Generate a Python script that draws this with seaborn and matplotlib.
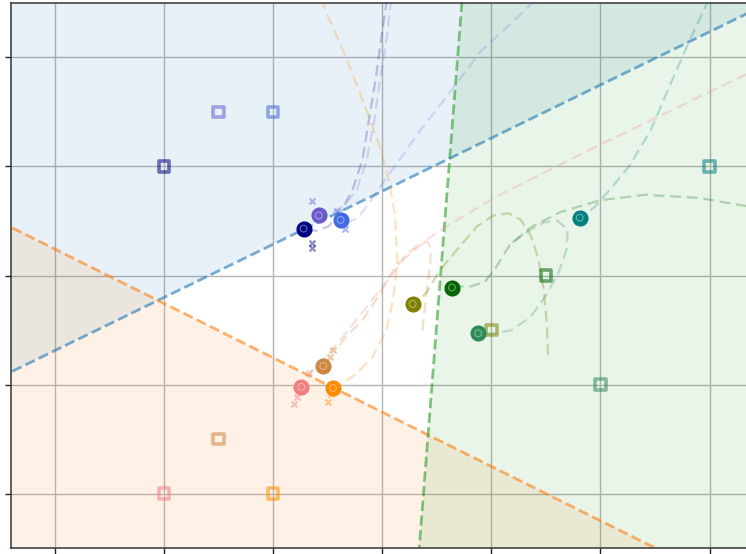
import numpy as np
import pandas as pd
import matplotlib
matplotlib.use("Agg")
import matplotlib.pyplot as plt
import seaborn as sns

# ---- agents: current position and goal ----
agent_colors = ["navy", "slateblue", "royalblue", "lightcoral", "peru",
                "darkorange", "olive", "darkgreen", "seagreen", "teal"]
agent_x = [-0.72, -0.58, -0.38, -0.74, -0.54, -0.45, 0.28, 0.64, 0.88, 1.81]
agent_y = [0.43, 0.55, 0.51, -1.02, -0.83, -1.03, -0.26, -0.11, -0.53, 0.53]
goal_x = [-2.0, -1.5, -1.0, -2.0, -1.5, -1.0, 1.0, 1.5, 2.0, 3.0]
goal_y = [1.0, 1.5, 1.5, -2.0, -1.5, -2.0, -0.5, 0.0, -1.0, 1.0]

# ---- recent samples around the agents ----
sample_colors = ["slateblue", "navy", "navy", "royalblue", "royalblue",
                 "lightcoral", "lightcoral", "lightcoral",
                 "darkorange", "darkorange", "peru", "peru"]
sample_x = [-0.64, -0.64, -0.64, -0.34, -0.41,
            -0.81, -0.78, -0.67, -0.50, -0.47, -0.45, -0.48]
sample_y = [0.68, 0.30, 0.25, 0.43, 0.59,
            -1.18, -1.11, -0.89, -1.16, -1.09, -0.68, -0.75]

# ---- travelled paths ----
trail_navy_x = [0.05, 0.04, -0.01, -0.06, -0.12, -0.18, -0.27, -0.38, -0.49, -0.60, -0.70]
trail_navy_y = [2.60, 2.50, 2.16, 1.79, 1.43, 1.06, 0.79, 0.58, 0.45, 0.41, 0.42]

trail_slateblue_x = [0.09, 0.08, 0.04, -0.02, -0.07, -0.14, -0.23, -0.34, -0.45, -0.55]
trail_slateblue_y = [2.60, 2.50, 2.16, 1.79, 1.43, 1.06, 0.79, 0.65, 0.58, 0.56]

trail_royalblue_x = [1.40, 1.17, 0.90, 0.72, 0.53, 0.35, 0.18, 0.03, -0.13, -0.22, -0.31]
trail_royalblue_y = [2.52, 2.30, 2.05, 1.81, 1.56, 1.33, 1.09, 0.88, 0.65, 0.53, 0.49]

trail_lightcoral_x = [3.50, 3.33, 2.91, 2.46, 2.00, 1.54, 1.08, 0.72, 0.44, 0.21, 0.03,
                      -0.16, -0.34, -0.52, -0.66]
trail_lightcoral_y = [1.91, 1.84, 1.64, 1.42, 1.20, 0.97, 0.74, 0.53, 0.35, 0.16, -0.07,
                      -0.31, -0.54, -0.75, -0.89]

trail_peru_x = [0.37, 0.40, 0.44, 0.45, 0.41, 0.33, 0.21, 0.09, -0.04, -0.18, -0.34, -0.42]
trail_peru_y = [-0.50, -0.22, 0.10, 0.25, 0.31, 0.28, 0.18, 0.03, -0.20, -0.41, -0.57, -0.68]

trail_darkorange_x = [-0.57, -0.55, -0.34, -0.16, -0.01, 0.07, 0.12, 0.14, 0.10, 0.04,
                      -0.09, -0.25, -0.38]
trail_darkorange_y = [2.60, 2.50, 2.02, 1.56, 1.15, 0.83, 0.54, 0.14, -0.22, -0.50,
                      -0.75, -0.91, -1.00]

trail_olive_x = [1.52, 1.51, 1.48, 1.43, 1.36, 1.27, 1.16, 1.02, 0.87, 0.69, 0.53, 0.41, 0.33]
trail_olive_y = [-0.73, -0.45, -0.13, 0.16, 0.37, 0.51, 0.57, 0.55, 0.45, 0.24, 0.05, -0.15, -0.24]

trail_darkgreen_x = [3.50, 3.37, 2.91, 2.41, 2.00, 1.63, 1.36, 1.17, 1.04, 0.94, 0.81, 0.69]
trail_darkgreen_y = [0.61, 0.63, 0.71, 0.74, 0.69, 0.58, 0.44, 0.28, 0.07, -0.06, -0.10, -0.10]

trail_seagreen_x = [1.19, 1.33, 1.49, 1.61, 1.70, 1.69, 1.61, 1.49, 1.36, 1.19, 1.04, 0.94]
trail_seagreen_y = [0.30, 0.40, 0.49, 0.50, 0.42, 0.24, 0.01, -0.20, -0.38, -0.50, -0.53, -0.53]

trail_teal_x = [3.03, 2.98, 2.82, 2.64, 2.46, 2.27, 2.09, 1.95, 1.86]
trail_teal_y = [2.60, 2.50, 2.16, 1.75, 1.33, 1.01, 0.79, 0.63, 0.56]

trails = [
    ("navy", trail_navy_x, trail_navy_y, 0.22),
    ("slateblue", trail_slateblue_x, trail_slateblue_y, 0.22),
    ("royalblue", trail_royalblue_x, trail_royalblue_y, 0.2),
    ("lightcoral", trail_lightcoral_x, trail_lightcoral_y, 0.25),
    ("peru", trail_peru_x, trail_peru_y, 0.25),
    ("darkorange", trail_darkorange_x, trail_darkorange_y, 0.25),
    ("olive", trail_olive_x, trail_olive_y, 0.3),
    ("darkgreen", trail_darkgreen_x, trail_darkgreen_y, 0.25),
    ("seagreen", trail_seagreen_x, trail_seagreen_y, 0.25),
    ("teal", trail_teal_x, trail_teal_y, 0.25),
]

# ---- linear decision boundaries ----
blue_slope, blue_icpt = 0.487, 0.772        # y = slope * x + icpt, region above
orange_slope, orange_icpt = -0.498, -1.251  # y = slope * x + icpt, region below
green_x0, green_dxdy = 0.5355, 0.0782       # x = x0 + dxdy * y, region right

x_ticks = [-3, -2, -1, 0, 1, 2, 3]
y_ticks = [-2, -1, 0, 1, 2]

sns.set_style("ticks")
fig = plt.figure(figsize=(7.46, 5.54), dpi=100)
ax = fig.add_axes([11 / 746, 5.7 / 554, 742.2 / 746, 545.6 / 554])
ax.set_xlim(-3.4, 3.4)
ax.set_ylim(-2.5, 2.5)

xs = np.linspace(-3.6, 3.6, 60)
ys = np.linspace(-2.7, 2.7, 60)
blue_line = blue_slope * xs + blue_icpt
orange_line = orange_slope * xs + orange_icpt
green_line = green_x0 + green_dxdy * ys

ax.fill_between(xs, blue_line, 3.0, color="C0", alpha=0.1, lw=0, zorder=1)
ax.fill_between(xs, -3.0, orange_line, color="C1", alpha=0.1, lw=0, zorder=1)
ax.fill_betweenx(ys, green_line, 3.6, color="C2", alpha=0.1, lw=0, zorder=1)

sns.lineplot(x=xs, y=blue_line, sort=False, estimator=None, ax=ax,
             color="C0", alpha=0.6, lw=2, linestyle="--", zorder=2)
sns.lineplot(x=xs, y=orange_line, sort=False, estimator=None, ax=ax,
             color="C1", alpha=0.6, lw=2, linestyle="--", zorder=2)
sns.lineplot(x=green_line, y=ys, sort=False, estimator=None, ax=ax,
             color="C2", alpha=0.6, lw=2, linestyle="--", zorder=2)

for color, tx, ty, a in trails:
    sns.lineplot(x=tx, y=ty, sort=False, estimator=None, ax=ax,
                 color=color, alpha=a, lw=1.6, linestyle=(0, (5, 2.5)), zorder=3)

# goals: hollow squares
for gx, gy, c in zip(goal_x, goal_y, agent_colors):
    sns.scatterplot(x=[gx], y=[gy], ax=ax, marker="s", s=58,
                    facecolor="none", edgecolor=c, linewidth=2.6,
                    alpha=0.55, zorder=4)

# recent samples: small crosses
for sx, sy, c in zip(sample_x, sample_y, sample_colors):
    sns.scatterplot(x=[sx], y=[sy], ax=ax, marker="x", s=18,
                    color=c, linewidth=1.6, alpha=0.45, zorder=4)

# agents: filled discs with a faint inner ring
for axx, ayy, c in zip(agent_x, agent_y, agent_colors):
    sns.scatterplot(x=[axx], y=[ayy], ax=ax, marker="o", s=112,
                    color=c, edgecolor=c, linewidth=1.0, zorder=5)
    sns.scatterplot(x=[axx], y=[ayy], ax=ax, marker="o", s=24,
                    facecolor="none", edgecolor="white", linewidth=0.8,
                    alpha=0.4, zorder=6)

ax.set_xticks(x_ticks)
ax.set_yticks(y_ticks)
ax.tick_params(labelleft=False, labelbottom=False, length=4.5, width=1,
               color="#222222")
ax.grid(True, color="#b5b5b5", lw=1.0)
ax.set_axisbelow(True)
for side in ax.spines.values():
    side.set_color("#333333")
    side.set_linewidth(1.1)
ax.set_xlabel("")
ax.set_ylabel("")

fig.savefig("out.png", dpi=100)
